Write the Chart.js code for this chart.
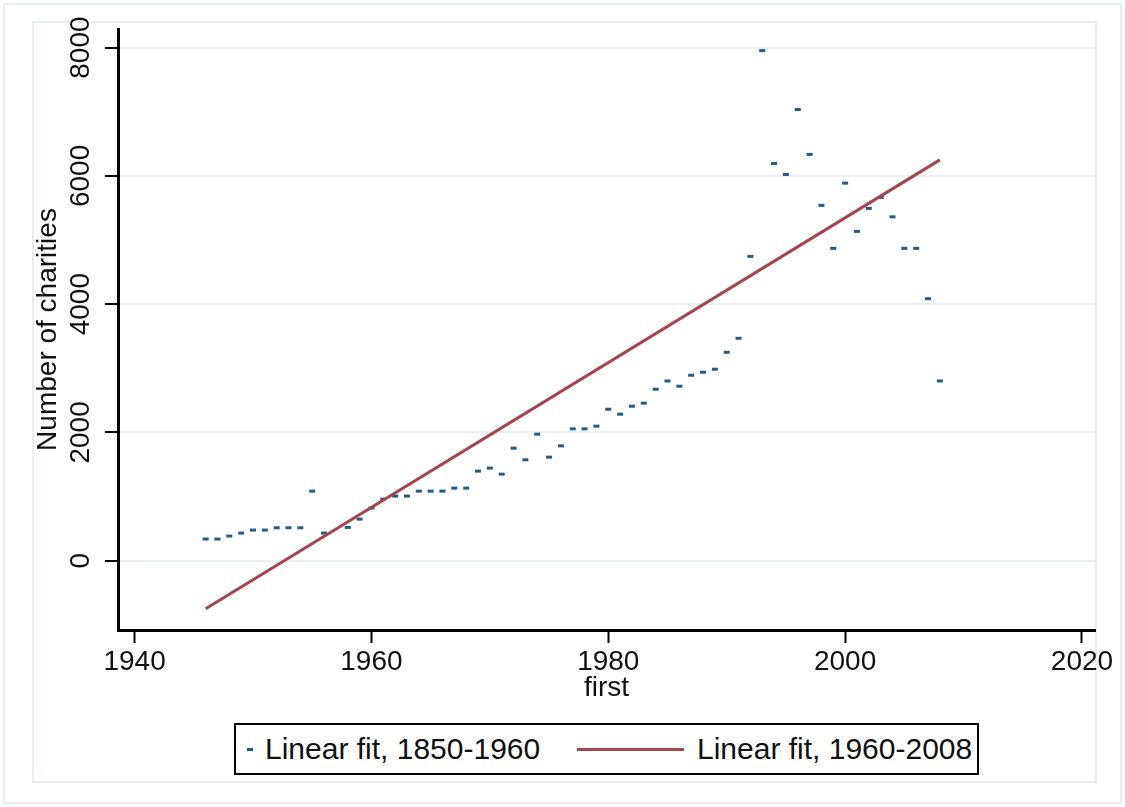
<!DOCTYPE html>
<html>
<head>
<meta charset="utf-8">
<script src="https://cdn.jsdelivr.net/npm/chart.js@4.4.1/dist/chart.umd.min.js"></script>
<style>
  html, body { margin: 0; padding: 0; background: #ffffff; }
  #wrap { position: relative; width: 1125px; height: 807px; overflow: hidden; background: #ffffff; }
  #chart { position: absolute; left: 0; top: 0; }
  #legend { position: absolute; left: 234px; top: 723px; width: 741px; height: 48px;
            border: 2px solid #000; background: #fff;
            font-family: "Liberation Sans", Arial, sans-serif; font-size: 30px; color: #111; }
  #legend .item { position: absolute; top: 0; height: 48px; line-height: 48px; white-space: nowrap; }
  #legend .sw { position: absolute; }
</style>
</head>
<body>
<div id="wrap">
  <canvas id="chart" width="1125" height="807"></canvas>
  <div id="legend"></div>
</div>
<script>
// ---- data ----
const years = [1946, 1947, 1948, 1949, 1950, 1951, 1952, 1953, 1954, 1955, 1956, 1958, 1959,
               1960, 1961, 1962, 1963, 1964, 1965, 1966, 1967, 1968, 1969, 1970, 1971, 1972,
               1973, 1974, 1975, 1976, 1977, 1978, 1979, 1980, 1981, 1982, 1983, 1984, 1985,
               1986, 1987, 1988, 1989, 1990, 1991, 1992, 1993, 1994, 1995, 1996, 1997, 1998,
               1999, 2000, 2001, 2002, 2003, 2004, 2005, 2006, 2007, 2008];
const charities = [338, 338, 385, 431, 478, 478, 514, 514, 514, 1085, 431, 519, 649,
                   821, 961, 1008, 1008, 1085, 1085, 1085, 1132, 1132, 1397, 1444, 1350, 1755,
                   1573, 1973, 1615, 1791, 2056, 2056, 2098, 2362, 2285, 2409, 2456, 2674, 2803,
                   2721, 2892, 2939, 2986, 3250, 3468, 4745, 7953, 6194, 6022, 7035, 6334, 5540,
                   4870, 5887, 5135, 5493, 5664, 5362, 4870, 4870, 4085, 2803];
const fitYears = [1946, 2008];
const fitValues = [-750, 6250];
const xTickValues = [1940, 1960, 1980, 2000, 2020];
const yTickValues = [0, 2000, 4000, 6000, 8000];
const seriesLabels = ['Linear fit, 1850-1960', 'Linear fit, 1960-2008'];
const xTitle = 'first';
const yTitle = 'Number of charities';

// ---- styling ----
const BLUE = '#235b88';
const RED = '#a2464c';
const GRID = '#e8f0f1';
const FONT = '"Liberation Sans", Arial, sans-serif';

const framePlugin = {
  id: 'frames',
  beforeDraw(chart) {
    const ctx = chart.ctx;
    ctx.save();
    ctx.strokeStyle = '#e6eff0';
    ctx.lineWidth = 2;
    ctx.strokeRect(4, 4, 1117, 799);
    ctx.strokeRect(33, 22, 1063, 760);
    ctx.restore();
  }
};

const scatterData = years.map((yr, i) => ({ x: yr, y: charities[i] }));
const fitData = fitYears.map((yr, i) => ({ x: yr, y: fitValues[i] }));

new Chart(document.getElementById('chart'), {
  type: 'scatter',
  data: {
    datasets: [
      {
        label: seriesLabels[0],
        data: scatterData,
        showLine: false,
        pointStyle: 'line',
        pointRadius: 3,
        pointHoverRadius: 3,
        pointBorderWidth: 3,
        pointBorderColor: BLUE,
        pointBackgroundColor: BLUE,
        order: 1
      },
      {
        label: seriesLabels[1],
        data: fitData,
        showLine: true,
        borderColor: RED,
        borderWidth: 3,
        pointRadius: 0,
        pointHoverRadius: 0,
        order: 0
      }
    ]
  },
  options: {
    responsive: false,
    devicePixelRatio: 1,
    animation: false,
    events: [],
    layout: { padding: { left: 0, top: 29, right: 30, bottom: 102 } },
    plugins: { legend: { display: false }, tooltip: { enabled: false } },
    scales: {
      x: {
        type: 'linear',
        position: 'bottom',
        min: 1938.6,
        max: 2021.1,
        afterBuildTicks: s => { s.ticks = xTickValues.map(v => ({ value: v })); },
        afterFit: s => { s.height = 75; },
        border: { color: '#000', width: 3 },
        grid: { drawOnChartArea: false, drawTicks: true, tickLength: 13, tickColor: '#000', tickWidth: 2 },
        ticks: { font: { family: FONT, size: 28 }, color: '#111', padding: 2, maxRotation: 0, autoSkip: false,
                 callback: v => String(v) },
        title: { display: true, text: xTitle, font: { family: FONT, size: 28 }, color: '#111', padding: { top: 0, bottom: 0 } }
      },
      y: {
        type: 'linear',
        min: -1080,
        max: 8290,
        afterBuildTicks: s => { s.ticks = yTickValues.map(v => ({ value: v })); },
        afterFit: s => { s.width = 118; },
        border: { color: '#000', width: 3 },
        grid: { color: GRID, lineWidth: 2, drawTicks: true, tickLength: 13, tickColor: '#000', tickWidth: 2 },
        ticks: { font: { family: FONT, size: 28 }, color: '#111', minRotation: 90, maxRotation: 90,
                 crossAlign: 'center', padding: -7, autoSkip: false, callback: v => String(v) },
        title: { display: true, text: yTitle, font: { family: FONT, size: 28 }, color: '#111', padding: { top: 31, bottom: 0 } }
      }
    }
  },
  plugins: [framePlugin]
});

// ---- legend (Stata-style box) ----
const legend = document.getElementById('legend');
const it1 = document.createElement('div');
it1.className = 'item'; it1.style.left = '29px'; it1.textContent = seriesLabels[0];
const sw1 = document.createElement('div');
sw1.className = 'sw';
Object.assign(sw1.style, { left: '11px', top: '23px', width: '6px', height: '3px', background: BLUE });
const sw2 = document.createElement('div');
sw2.className = 'sw';
Object.assign(sw2.style, { left: '341px', top: '23px', width: '107px', height: '3px', background: RED });
const it2 = document.createElement('div');
it2.className = 'item'; it2.style.left = '461px'; it2.textContent = seriesLabels[1];
legend.appendChild(sw1); legend.appendChild(it1); legend.appendChild(sw2); legend.appendChild(it2);
</script>
</body>
</html>
